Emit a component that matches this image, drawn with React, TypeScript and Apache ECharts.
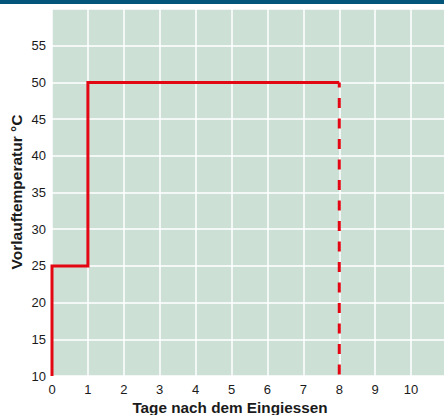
import React, { useEffect, useRef } from "react";
import * as echarts from "echarts";

const solidDays = [0, 0, 1, 1, 8];
const solidTemps = [10, 25, 25, 50, 50];
const dashedDays = [8, 8];
const dashedTemps = [50, 10];
const xTicks = ["0", "1", "2", "3", "4", "5", "6", "7", "8", "9", "10"];
const yTicks = ["10", "15", "20", "25", "30", "35", "40", "45", "50", "55"];
const xTitle = "Tage nach dem Eingiessen";
const yTitle = "Vorlauftemperatur °C";

const FONT = "'Liberation Sans', Arial, Helvetica, sans-serif";
const RED = "#e30613";

export default function App() {
  const ref = useRef<HTMLDivElement>(null);
  useEffect(() => {
    if (!ref.current) return;
    const chart = echarts.init(ref.current, null, { renderer: "svg" });
    const solid = solidDays.map((d, i) => [d, solidTemps[i]]);
    const dashed = dashedDays.map((d, i) => [d, dashedTemps[i]]);
    chart.setOption({
      animation: false,
      backgroundColor: "#ffffff",
      grid: {
        left: 52,
        right: 5,
        top: 9,
        bottom: 39,
        show: true,
        backgroundColor: "#cde0d6",
        borderWidth: 0,
      },
      xAxis: {
        type: "value",
        min: 0,
        max: 11,
        interval: 1,
        axisLine: { show: false },
        axisTick: { show: false },
        splitLine: { show: true, lineStyle: { color: "#ffffff", width: 1.5 } },
        axisLabel: {
          margin: 7,
          fontFamily: FONT,
          fontSize: 13,
          color: "#1a1a1a",
          formatter: (v: number) => (xTicks.includes(String(v)) ? String(v) : ""),
        },
      },
      yAxis: {
        type: "value",
        min: 10,
        max: 60,
        interval: 5,
        axisLine: { show: false },
        axisTick: { show: false },
        splitLine: { show: true, lineStyle: { color: "#ffffff", width: 1.5 } },
        axisLabel: {
          margin: 6,
          fontFamily: FONT,
          fontSize: 13,
          color: "#1a1a1a",
          formatter: (v: number) => (yTicks.includes(String(v)) ? String(v) : ""),
        },
      },
      graphic: [
        {
          type: "rect",
          left: 0,
          top: 0,
          shape: { x: 0, y: 0, width: 452, height: 4 },
          style: { fill: "#03567a" },
        },
        {
          type: "text",
          x: 230,
          y: 407,
          style: {
            text: xTitle,
            fontFamily: FONT,
            fontSize: 15.3,
            fontWeight: "bold",
            fill: "#1a1a1a",
            align: "center",
            verticalAlign: "middle",
          },
        },
        {
          type: "text",
          x: 16,
          y: 192,
          rotation: Math.PI / 2,
          style: {
            text: yTitle,
            fontFamily: FONT,
            fontSize: 15.5,
            fontWeight: "bold",
            fill: "#1a1a1a",
            align: "center",
            verticalAlign: "middle",
          },
        },
      ],
      series: [
        {
          type: "line",
          data: solid,
          clip: false,
          symbol: "none",
          lineStyle: { color: RED, width: 3, cap: "butt", join: "miter" },
        },
        {
          type: "line",
          data: dashed,
          clip: false,
          symbol: "none",
          lineStyle: { color: RED, width: 3, type: [10, 10.5], dashOffset: 5, cap: "butt" },
        },
      ],
    });
    return () => chart.dispose();
  }, []);
  return (
    <div
      ref={ref}
      style={{ position: "fixed", left: 0, top: 0, width: 452, height: 415 }}
    />
  );
}
